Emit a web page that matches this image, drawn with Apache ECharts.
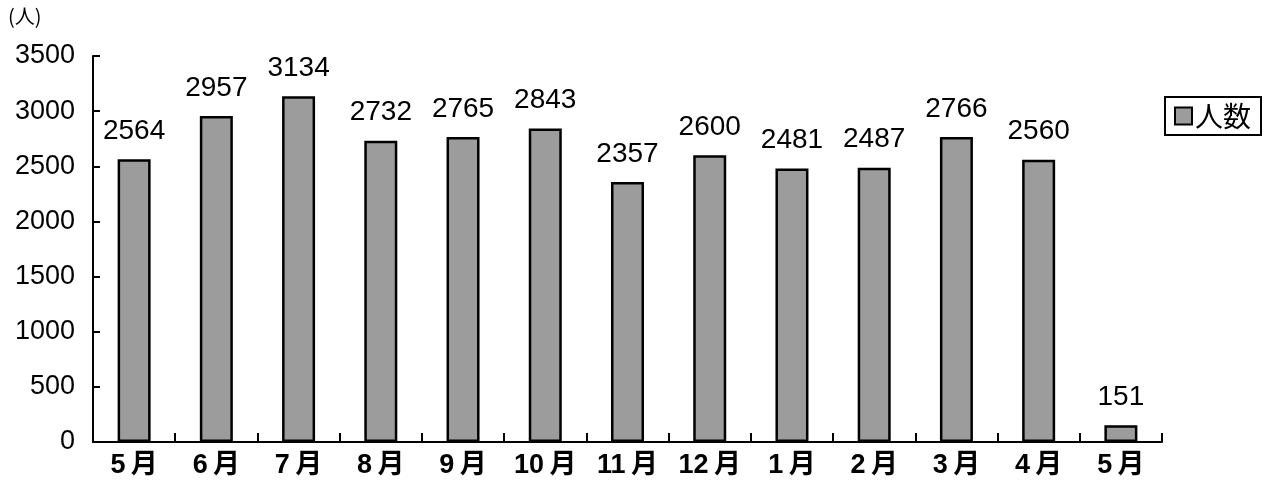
<!DOCTYPE html>
<html><head><meta charset="utf-8">
<script src="https://cdn.jsdelivr.net/npm/echarts@6/dist/echarts.min.js"></script>
<style>html,body{margin:0;padding:0;background:#fff}#c{width:1283px;height:502px}</style>
</head><body><div id="c"></div>
<script>
const categories = ['5月','6月','7月','8月','9月','10月','11月','12月','1月','2月','3月','4月','5月'];
const values = [2564,2957,3134,2732,2765,2843,2357,2600,2481,2487,2766,2560,151];
const seriesName = '人数';
const unitLabel = '(人)';
const FONT = '"Liberation Sans","Noto Sans CJK JP",sans-serif';
const chart = echarts.init(document.getElementById('c'));
chart.setOption({
  animation: false,
  backgroundColor: '#fff',
  grid: {left: 93, right: 121, top: 56, bottom: 60, containLabel: false},
  graphic: [{type:'text', left: 8, top: 6, style:{text: unitLabel, font: '20px "Noto Sans CJK JP"', fill:'#000'}}],
  legend: {
    left: 1165, top: 97, orient: 'vertical',
    data: [{name: seriesName, icon: 'rect'}],
    itemWidth: 17, itemHeight: 17, itemGap: 0,
    padding: [5, 10, 5, 9],
    borderColor: '#000', borderWidth: 2,
    textStyle: {fontSize: 28, fontFamily: '"Noto Sans CJK JP"', color: '#000', padding:[0,0,0,-2]}
  },
  xAxis: {
    type: 'category', data: categories,
    axisLine: {lineStyle: {color: '#000', width: 2}},
    axisTick: {show: true, inside: true, length: 9, alignWithLabel: false, lineStyle: {color:'#000', width: 2}},
    axisLabel: {fontSize: 27, color: '#000', margin: 10, fontFamily: FONT, fontWeight: 'bold',
      formatter: v => v.replace('月', '\u2009月')}
  },
  yAxis: {
    type: 'value', min: 0, max: 3500, interval: 500,
    splitLine: {show: false},
    axisLine: {show: true, lineStyle: {color: '#000', width: 2}},
    axisTick: {show: true, inside: true, length: 7, lineStyle: {color:'#000', width: 2}},
    axisLabel: {fontSize: 27, color: '#000', margin: 18, fontFamily: FONT, formatter: v => String(v)}
  },
  series: [{
    name: seriesName, type: 'bar', data: values, barWidth: 33,
    itemStyle: {color: '#9c9c9c', borderColor: '#000', borderWidth: 2.5},
    label: {show: true, position: 'top', distance: 14, fontSize: 28, color: '#000', fontFamily: FONT}
  }]
});
</script></body></html>
